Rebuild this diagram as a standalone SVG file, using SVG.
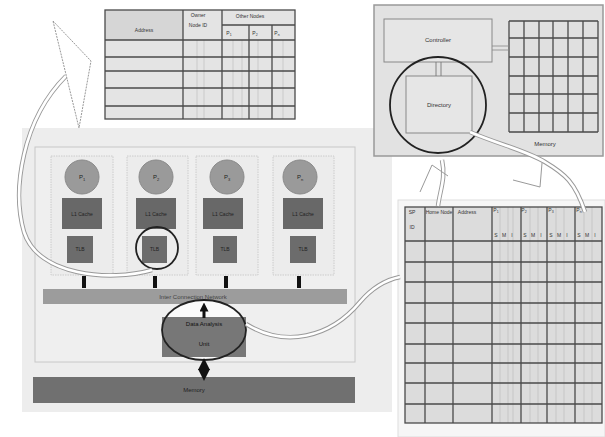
<svg xmlns="http://www.w3.org/2000/svg" width="605" height="437" viewBox="0 0 605 437">
<style>
text{font-family:"Liberation Sans",Arial,sans-serif;fill:#333;text-anchor:middle}
.t5{font-size:5px}
.t6{font-size:6px}
.t7{font-size:7px}
.grid{stroke:#4a4a4a;stroke-width:1.3;fill:none}
.faint{stroke:#bbb;stroke-width:0.6;fill:none}
.pbox{fill:#ececec;stroke:#c4c4c4;stroke-width:0.8;stroke-dasharray:1.5 1}
.proc{fill:#9a9a9a;stroke:#8a8a8a}
.cache{fill:#686868}
.tlb{fill:#6c6c6c}
.ring{fill:none;stroke:#222;stroke-width:1.8}
.dblo{fill:none;stroke:#999;stroke-width:4.5;stroke-linecap:butt}
.dbli{fill:none;stroke:#fff;stroke-width:2.6;stroke-linecap:butt}
.bar{fill:#111}
</style>
<defs>
<marker id="ah" viewBox="0 0 10 10" refX="5" refY="5" markerWidth="3" markerHeight="3" orient="auto-start-reverse"><path d="M0,0 L10,5 L0,10 z" fill="#111"/></marker>
</defs>
<rect width="605" height="437" fill="#fff"/>

<g id="system">
<rect x="22" y="128" width="370" height="284" fill="#ededed"/>
<rect x="35" y="147" width="320" height="215" fill="#efefef" stroke="#c8c8c8" stroke-width="1"/>
</g>

<g id="node-p1">
<rect class="pbox" x="51" y="156" width="62" height="119"/>
<circle class="proc" cx="82" cy="177" r="17"/>
<text class="t6" x="82" y="179" style="fill:#222">P<tspan font-size="4" dy="1.5">1</tspan></text>
<rect class="cache" x="62" y="198" width="40" height="31"/>
<text class="t5" x="82" y="216" style="fill:#222">L1 Cache</text>
<rect class="tlb" x="67" y="236" width="26" height="27"/>
<text class="t5" x="80" y="251" style="fill:#222">TLB</text>
</g>
<g id="node-p2">
<rect class="pbox" x="127" y="156" width="61" height="119"/>
<circle class="proc" cx="156" cy="177" r="17"/>
<text class="t6" x="156" y="179" style="fill:#222">P<tspan font-size="4" dy="1.5">2</tspan></text>
<rect class="cache" x="136" y="198" width="40" height="31"/>
<text class="t5" x="156" y="216" style="fill:#222">L1 Cache</text>
<rect class="tlb" x="142" y="236" width="25" height="27"/>
<text class="t5" x="154.5" y="251" style="fill:#222">TLB</text>
<circle class="ring" cx="157" cy="248" r="21"/>
</g>
<g id="node-p3">
<rect class="pbox" x="196" y="156" width="62" height="119"/>
<circle class="proc" cx="227" cy="177" r="17"/>
<text class="t6" x="227" y="179" style="fill:#222">P<tspan font-size="4" dy="1.5">3</tspan></text>
<rect class="cache" x="203" y="198" width="40" height="31"/>
<text class="t5" x="223" y="216" style="fill:#222">L1 Cache</text>
<rect class="tlb" x="213" y="236" width="24" height="27"/>
<text class="t5" x="225" y="251" style="fill:#222">TLB</text>
</g>
<g id="node-pn">
<rect class="pbox" x="273" y="156" width="61" height="119"/>
<circle class="proc" cx="300" cy="177" r="17"/>
<text class="t6" x="300" y="179" style="fill:#222">P<tspan font-size="4" dy="1.5">n</tspan></text>
<rect class="cache" x="283" y="198" width="40" height="31"/>
<text class="t5" x="303" y="216" style="fill:#222">L1 Cache</text>
<rect class="tlb" x="290" y="236" width="26" height="27"/>
<text class="t5" x="303" y="251" style="fill:#222">TLB</text>
</g>

<g id="network">
<rect x="43" y="289" width="304" height="15" fill="#9c9c9c"/>
<text class="t6" x="193" y="299" style="fill:#444">Inter Connection Network</text>
</g>

<g id="data-analysis-unit">
<ellipse cx="204" cy="330" rx="42" ry="30" fill="#fafafa"/>
<rect x="162" y="317" width="84" height="40" fill="#777"/>
<text class="t6" x="204" y="326" style="fill:#111">Data Analysis</text>
<text class="t6" x="204" y="346" style="fill:#111">Unit</text>
<ellipse class="ring" cx="204" cy="330" rx="42" ry="30"/>
</g>

<g id="memory">
<rect x="33" y="377" width="322" height="26" fill="#707070"/>
<text class="t6" x="194" y="392" style="fill:#222">Memory</text>
</g>

<g id="owner-table">
<rect x="105" y="10" width="190" height="109" fill="#e4e4e4"/>
<rect x="105" y="10" width="78" height="30" fill="#d6d6d6"/>
<path class="faint" d="M197,40V119M204,40V119M233,40V119M242,40V119M258,40V119M283,40V119"/>
<path class="grid" d="M105,40H295M105,57H295M105,71H295M105,88H295M105,106H295M183,10V119M222,10V119M249,25V119M272,25V119M222,25H295"/>
<rect class="grid" x="105" y="10" width="190" height="109" stroke-width="1.8"/>
<text class="t5" x="144" y="32">Address</text>
<text class="t5" x="198" y="17">Owner</text>
<text class="t5" x="198" y="27">Node ID</text>
<text class="t5" x="250" y="18">Other Nodes</text>
<text class="t5" x="229" y="35">P<tspan font-size="3.5" dy="1">1</tspan></text>
<text class="t5" x="255" y="35">P<tspan font-size="3.5" dy="1">2</tspan></text>
<text class="t5" x="277" y="35">P<tspan font-size="3.5" dy="1">n</tspan></text>
</g>

<g id="home-node">
<rect x="374" y="5" width="229" height="151" fill="#e2e2e2" stroke="#999" stroke-width="1.5"/>
</g>
<g id="controller">
<rect x="384" y="19" width="108" height="43" fill="#e6e6e6" stroke="#888" stroke-width="1"/>
<text class="t6" x="438" y="42">Controller</text>
</g>
<g id="directory">
<rect x="406" y="76" width="66" height="57" fill="#e6e6e6" stroke="#888" stroke-width="1"/>
<text class="t6" x="439" y="107">Directory</text>
<circle class="ring" cx="438" cy="105" r="48"/>
</g>
<g id="home-memory">
<rect x="509" y="21" width="89" height="111" fill="#e0e0e0"/>
<path class="grid" d="M509,21V132M524,21V132M539,21V132M553,21V132M568,21V132M583,21V132M598,21V132M509,21H598M509,38H598M509,57H598M509,76H598M509,94H598M509,113H598M509,132H598"/>
<text class="t6" x="545" y="146">Memory</text>
</g>

<g id="sharing-table">
<rect x="398" y="200" width="207" height="237" fill="#f6f6f6" stroke="#ddd" stroke-width="1"/>
<rect x="405" y="207" width="197" height="216" fill="#dcdcdc"/>
<path class="faint" d="M500,207V423M508,207V423M513,207V423M530,207V423M538,207V423M556,207V423M564,207V423M584,207V423M592,207V423"/>
<path class="grid" d="M425,207V423M453,207V423M492,207V423M521,207V423M547,207V423M575,207V423M405,241H602M405,262H602M405,282H602M405,303H602M405,323H602M405,344H602M405,363H602M405,383H602M405,404H602"/>
<rect class="grid" x="405" y="207" width="197" height="216" stroke-width="1.8"/>
<text class="t5" x="412" y="214">SP</text>
<text class="t5" x="412" y="229">ID</text>
<text class="t5" x="439" y="214">Home Node</text>
<text class="t5" x="467" y="214">Address</text>
<text class="t5" x="496" y="212">P<tspan font-size="3.5" dy="1">1</tspan></text>
<text class="t5" x="524" y="212">P<tspan font-size="3.5" dy="1">2</tspan></text>
<text class="t5" x="551" y="212">P<tspan font-size="3.5" dy="1">3</tspan></text>
<text class="t5" x="579" y="212">P<tspan font-size="3.5" dy="1">n</tspan></text>
<text class="t5" x="496" y="237">S</text><text class="t5" x="504" y="237">M</text><text class="t5" x="512" y="237">I</text>
<text class="t5" x="525" y="237">S</text><text class="t5" x="533" y="237">M</text><text class="t5" x="541" y="237">I</text>
<text class="t5" x="551" y="237">S</text><text class="t5" x="559" y="237">M</text><text class="t5" x="567" y="237">I</text>
<text class="t5" x="579" y="237">S</text><text class="t5" x="587" y="237">M</text><text class="t5" x="595" y="237">I</text>
</g>

<g id="connectors">
<rect class="bar" x="82" y="276" width="4" height="12"/>
<rect class="bar" x="153" y="276" width="4" height="12"/>
<rect class="bar" x="224" y="276" width="4" height="12"/>
<rect class="bar" x="297" y="276" width="4" height="12"/>
<line x1="204" y1="318" x2="204" y2="307" stroke="#111" stroke-width="3" marker-end="url(#ah)"/>
<line x1="204" y1="364" x2="204" y2="375" stroke="#111" stroke-width="4" marker-start="url(#ah)" marker-end="url(#ah)"/>
<path d="M492,46H509M492,50H509" stroke="#888" stroke-width="0.8"/>
<path d="M436,62V76M441,62V76" stroke="#777" stroke-width="0.9"/>

<path class="dblo" d="M152,270 C110,282 38,276 24,232 C12,190 22,120 66,76"/>
<path class="dbli" d="M152,270 C110,282 38,276 24,232 C12,190 22,120 66,76"/>
<polygon points="53,21 91,61 79,128" fill="#fff" stroke="#999" stroke-width="1" stroke-dasharray="2 1"/>

<path class="dblo" d="M246,324 C285,348 330,338 360,302 C372,288 385,280 400,277"/>
<path class="dbli" d="M246,324 C285,348 330,338 360,302 C372,288 385,280 400,277"/>

<path class="dblo" d="M470,132 C500,145 525,150 545,162 C565,174 575,182 585,212"/>
<path class="dbli" d="M470,132 C500,145 525,150 545,162 C565,174 575,182 585,212"/>
<polyline points="513,180 540,187 542,163" fill="none" stroke="#999" stroke-width="1"/>

<path class="dblo" d="M438,206 C440,190 446,178 442,160"/>
<path class="dbli" d="M438,206 C440,190 446,178 442,160"/>
<polyline points="420,192 432,165 448,176" fill="none" stroke="#999" stroke-width="1"/>
</g>
</svg>
